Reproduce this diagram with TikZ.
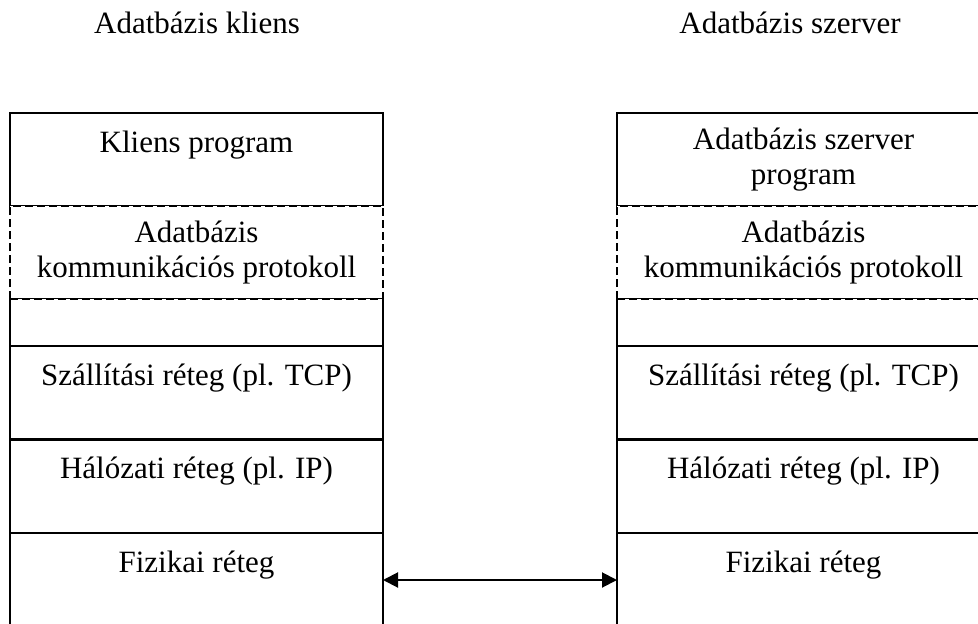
\documentclass[tikz,border=0pt]{standalone}
\usepackage{fontspec}
\setmainfont{Liberation Serif}
\usetikzlibrary{positioning, arrows.meta}

\begin{document}
\begin{tikzpicture}[x=1pt, y=1pt]
  \tikzset{
    layer/.style={draw, line width=2.2pt, minimum width=373pt, minimum height=93.5pt, inner sep=0pt, outer sep=0pt}, % one layer of a stack
    dashedlayer/.style={draw, line width=2.2pt, dash pattern=on 8pt off 4pt, preaction={draw=white, solid}}, % overdraws the shared edges
    layertxt/.style={anchor=north, inner sep=0pt, align=center, yshift=-15pt, font=\fontsize{31}{35}\selectfont, execute at begin node={\rule{0pt}{24pt}}},
    headtxt/.style={anchor=base, inner sep=0pt, font=\fontsize{31}{35}\selectfont},
    link/.style={<->, >={Triangle[length=15pt, width=15pt]}, line width=2pt},
  }
  \clip (0,0) rectangle (978,-624);

  % titles
  \node[headtxt] (clientT) at (197,-33) {Adatbázis kliens};
  \node[headtxt] (serverT) at (790,-33) {Adatbázis szerver};

  % client stack
  \node[layer, anchor=north, minimum height=93pt] (kpL) at (196.5,-113) {};
  \node[layer, draw=none, minimum height=93pt, below=0pt of kpL] (protoL) {};
  \node[layer, minimum height=47pt, below=0pt of protoL] (gapL) {};
  \node[layer, below=0pt of gapL] (tcpL) {};
  \node[layer, below=0pt of tcpL] (ipL) {};
  \node[layer, minimum height=94pt, below=0pt of ipL] (fizL) {};
  \draw[dashedlayer] (protoL.south west) rectangle (protoL.north east);

  % server stack
  \node[layer, anchor=north, minimum height=93pt] (kpR) at (803.5,-113) {};
  \node[layer, draw=none, minimum height=93pt, below=0pt of kpR] (protoR) {};
  \node[layer, minimum height=47pt, below=0pt of protoR] (gapR) {};
  \node[layer, below=0pt of gapR] (tcpR) {};
  \node[layer, below=0pt of tcpR] (ipR) {};
  \node[layer, minimum height=94pt, below=0pt of ipR] (fizR) {};
  \draw[dashedlayer] (protoR.south west) rectangle (protoR.north east);

  % layer texts
  \node[layertxt] (kpLt) at (kpL.north) {Kliens program};
  \node[layertxt] (protoLt) at (protoL.north) {Adatbázis\\kommunikációs protokoll};
  \node[layertxt] (tcpLt) at (tcpL.north) {Szállítási réteg (pl. TCP)};
  \node[layertxt] (ipLt) at (ipL.north) {Hálózati réteg (pl. IP)};
  \node[layertxt] (fizLt) at (fizL.north) {Fizikai réteg};

  \node[layertxt] (kpRt) at (kpR.north) {Adatbázis szerver\\program};
  \node[layertxt] (protoRt) at (protoR.north) {Adatbázis\\kommunikációs protokoll};
  \node[layertxt] (tcpRt) at (tcpR.north) {Szállítási réteg (pl. TCP)};
  \node[layertxt] (ipRt) at (ipR.north) {Hálózati réteg (pl. IP)};
  \node[layertxt] (fizRt) at (fizR.north) {Fizikai réteg};

  % physical link
  \draw[link] (fizL.east) -- (fizR.west);
\end{tikzpicture}
\end{document}
